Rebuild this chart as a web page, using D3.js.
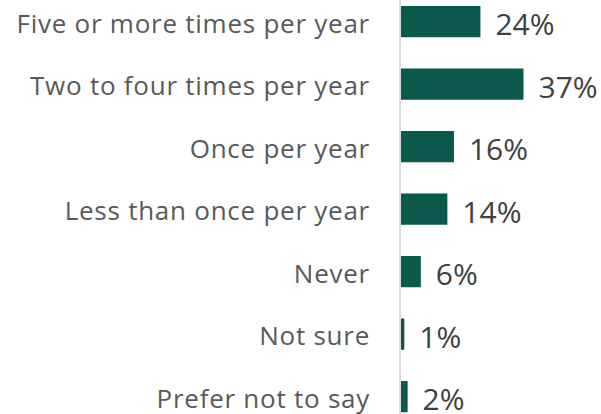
<!DOCTYPE html>
<html>
<head>
<meta charset="utf-8">
<script src="https://cdn.jsdelivr.net/npm/d3@7"></script>
<style>
	body { margin: 0; background: #fff; }
	svg text { font-family: "Open Sans", "Noto Sans", sans-serif; }
	.cat-label { fill: #595959; font-size: 26px; letter-spacing: 0.75px; }
	.value-label { fill: #404040; font-size: 30px; }
	.axis-line { stroke: #d9d9d9; stroke-width: 2; }
	.bar { fill: #0b594d; }
</style>
</head>
<body>
<div id="bar-chart"></div>
<script>
// Chart data
var categories = [
	'Five or more times per year',
	'Two to four times per year',
	'Once per year',
	'Less than once per year',
	'Never',
	'Not sure',
	'Prefer not to say'
];
var values = [24, 37, 16, 14, 6, 1, 2];

var render = function() {
	var width = 601;
	var height = 414;

	var margins = {
		top: 6,
		left: 401
	};

	var rowStep = 62.5;

	var svg = d3.select('#bar-chart')
		.append('svg')
		.attr('width', width)
		.attr('height', height);

	var chartElement = svg.append('g')
		.attr('transform', 'translate(' + margins['left'] + ',' + margins['top'] + ')');

	// step = range / (n - paddingInner) with no outer padding
	var yScale = d3.scaleBand()
		.domain(categories)
		.range([0, rowStep * (categories.length - 0.5)])
		.paddingInner(0.5)
		.paddingOuter(0);

	// 37% -> ~122px
	var xScale = d3.scaleLinear()
		.domain([0, 37])
		.range([0, 122.5]);

	var data = categories.map(function(c, i) {
		return { name: c, amt: values[i] };
	});

	// axis line
	chartElement.append('line')
		.attr('class', 'axis-line')
		.attr('x1', -1)
		.attr('x2', -1)
		.attr('y1', -margins['top'])
		.attr('y2', height);

	chartElement.append('g')
		.selectAll('rect')
		.data(data)
		.enter()
		.append('rect')
		.attr('class', 'bar')
		.attr('x', 0)
		.attr('y', function(d) { return yScale(d.name); })
		.attr('width', function(d) { return xScale(d.amt); })
		.attr('height', yScale.bandwidth());

	chartElement.append('g')
		.selectAll('text')
		.data(data)
		.enter()
		.append('text')
		.attr('class', 'cat-label')
		.attr('text-anchor', 'end')
		.attr('x', -31)
		.attr('y', function(d) { return yScale(d.name) + yScale.bandwidth() / 2 + 11; })
		.text(function(d) { return d.name; });

	chartElement.append('g')
		.selectAll('text')
		.data(data)
		.enter()
		.append('text')
		.attr('class', 'value-label')
		.attr('x', function(d) { return xScale(d.amt) + 15; })
		.attr('y', function(d) { return yScale(d.name) + yScale.bandwidth() / 2 + 13.5; })
		.text(function(d) { return d.amt + '%'; });
};

render();
</script>
</body>
</html>
